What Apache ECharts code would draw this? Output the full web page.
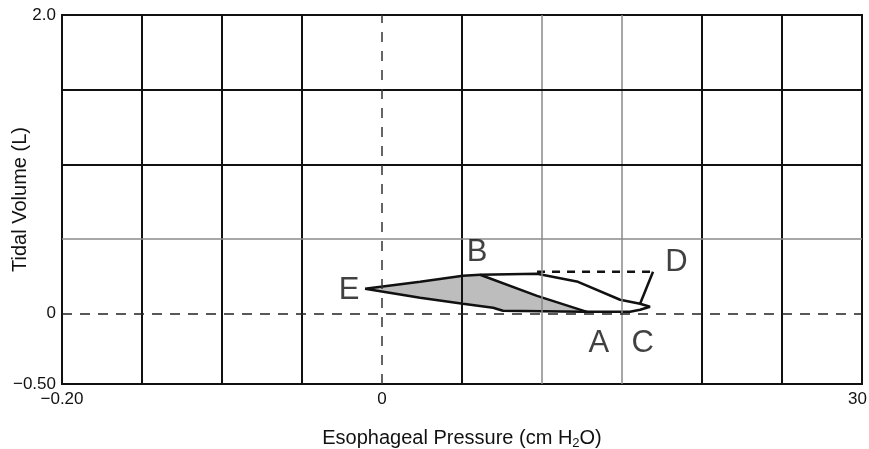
<!DOCTYPE html>
<html>
<head>
<meta charset="utf-8">
<script src="https://cdn.jsdelivr.net/npm/echarts@6/dist/echarts.min.js"></script>
<style>
  html, body { margin: 0; padding: 0; background: #fff; }
  #chart { width: 869px; height: 449px; }
</style>
</head>
<body>
<div id="chart"></div>
<script>
// pressure (cm H2O) and tidal volume (L)
var shadedArea = [
  [-1.06, 0.167], [2.38, 0.214], [5.06, 0.254], [6.13, 0.261], [9.69, 0.120],
  [12.81, 0.013], [7.56, 0.020], [6.94, 0.040], [5.06, 0.067], [2.38, 0.107]
];
var outerLoop = [
  [-1.06, 0.167], [2.38, 0.214], [5.06, 0.254], [6.13, 0.261], [9.69, 0.268],
  [12.25, 0.214], [14.88, 0.094], [16.13, 0.067], [16.75, 0.047], [16.13, 0.027],
  [15.5, 0.013], [12.56, 0.013], [7.56, 0.020], [6.94, 0.040], [5.06, 0.067],
  [2.38, 0.107], [-1.06, 0.167]
];
var diagonalBA = [[6.13, 0.261], [9.69, 0.120], [12.81, 0.013]];
var dashedToD = [[9.69, 0.281], [16.94, 0.281]];
var legD = [[16.94, 0.281], [16.13, 0.067]];
var pointNames = ['B', 'E', 'D', 'A', 'C'];
var pointPos = [[5.94, 0.41], [-2.06, 0.155], [18.4, 0.345], [13.55, -0.2], [16.3, -0.2]];

// grid lines
var xLines = [-15, -10, -5, 5, 10, 15, 20, 25];
var xLinesGray = [10, 15];
var yLines = [0.5, 1.0, 1.5];
var yLinesGray = [0.5];
var xLabels = {'-20': '\u22120.20', '0': '0', '30': '{r|30}'};
var yLabels = {'-0.47': '\u22120.50', '0': '0', '2': '2.0'};

var chart = echarts.init(document.getElementById('chart'), null, {renderer: 'canvas'});

var gridMarks = [];
xLines.forEach(function (v) {
  var gray = xLinesGray.indexOf(v) >= 0;
  gridMarks.push({xAxis: v, lineStyle: {color: gray ? '#8a8a8a' : '#111', width: gray ? 1.5 : 2, type: 'solid'}});
});
yLines.forEach(function (v) {
  var gray = yLinesGray.indexOf(v) >= 0;
  gridMarks.push({yAxis: v, lineStyle: {color: gray ? '#8a8a8a' : '#111', width: gray ? 1.5 : 2, type: 'solid'}});
});
gridMarks.push({xAxis: 0, lineStyle: {color: '#333', width: 1.5, type: [10, 9]}});
gridMarks.push({yAxis: 0, lineStyle: {color: '#222', width: 1.5, type: [10, 8]}});

var font = 'Liberation Sans';

chart.setOption({
  backgroundColor: '#fff',
  animation: false,
  grid: {
    left: 62, right: 7, top: 15, bottom: 65,
    outerBoundsMode: 'none',
    containLabel: false,
    show: true, borderColor: '#111', borderWidth: 2
  },
  xAxis: {
    type: 'value',
    min: -20, max: 30,
    name: 'Esophageal Pressure (cm H{sub|2}O)',
    nameLocation: 'middle',
    nameGap: 43,
    nameMoveOverlap: false,
    nameTextStyle: {
      color: '#111', fontSize: 20, fontFamily: font,
      rich: {sub: {fontSize: 13, verticalAlign: 'bottom', padding: [10, 0, 0, 0], fontFamily: font, color: '#111'}}
    },
    axisLine: {show: false},
    axisTick: {show: false},
    splitLine: {show: false},
    axisLabel: {
      customValues: [-20, 0, 30],
      color: '#111', fontSize: 17, fontFamily: font, margin: 7,
      rich: {r: {padding: [0, 9, 0, 0], fontSize: 17, fontFamily: font, color: '#111'}},
      formatter: function (v) { return xLabels[String(v)] || ''; }
    }
  },
  yAxis: {
    type: 'value',
    min: -0.47, max: 2,
    name: 'Tidal Volume (L)',
    nameLocation: 'middle',
    nameGap: 32,
    nameMoveOverlap: false,
    nameTextStyle: {color: '#111', fontSize: 20, fontFamily: font},
    axisLine: {show: false},
    axisTick: {show: false},
    splitLine: {show: false},
    axisLabel: {
      customValues: [-0.47, 0, 2],
      color: '#111', fontSize: 17, fontFamily: font, margin: 6,
      formatter: function (v) { return yLabels[String(v)] || ''; }
    }
  },
  series: [
    {
      type: 'line', data: [], silent: true,
      markLine: {silent: true, symbol: 'none', label: {show: false}, data: gridMarks}
    },
    {
      type: 'custom',
      silent: true,
      data: [0],
      renderItem: function (params, api) {
        var pts = shadedArea.map(function (p) { return api.coord(p); });
        return {type: 'polygon', shape: {points: pts}, style: {fill: '#bdbdbd', stroke: 'none'}};
      },
      z: 3
    },
    {
      type: 'line', data: outerLoop, showSymbol: false, smooth: false,
      lineStyle: {color: '#111', width: 2.5}, z: 4
    },
    {
      type: 'line', data: diagonalBA, showSymbol: false,
      lineStyle: {color: '#111', width: 2.5}, z: 4
    },
    {
      type: 'line', data: dashedToD, showSymbol: false,
      lineStyle: {color: '#111', width: 2.5, type: [8, 7]}, z: 4
    },
    {
      type: 'line', data: legD, showSymbol: false,
      lineStyle: {color: '#111', width: 2.5}, z: 4
    },
    {
      type: 'scatter', symbolSize: 0, z: 5,
      data: pointNames.map(function (n, i) { return {name: n, value: pointPos[i]}; }),
      label: {
        show: true, position: 'inside', formatter: '{b}',
        color: '#111', fontSize: 31, fontFamily: font
      }
    }
  ]
});
</script>
</body>
</html>
